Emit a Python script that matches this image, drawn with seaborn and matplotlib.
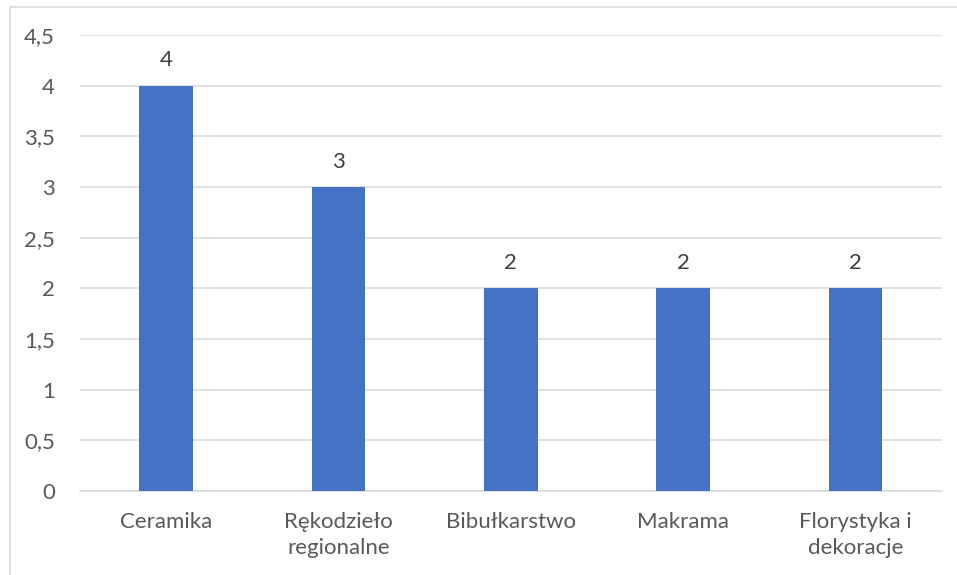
import seaborn as sb
import matplotlib.pyplot as plt
import matplotlib.patches as patches
import pandas as pd

categories = ["Ceramika", "Rękodzieło\nregionalne", "Bibułkarstwo", "Makrama", "Florystyka i\ndekoracje"]
counts = [4, 3, 2, 2, 2]
yticks = [0, 0.5, 1, 1.5, 2, 2.5, 3, 3.5, 4, 4.5]

myd = pd.DataFrame({"kategoria": categories, "liczba": counts})

sb.set_style("white")
plt.rcParams["font.family"] = ["Lato", "DejaVu Sans"]
txt = "#595959"
grid = "#d9d9d9"

fig = plt.figure(figsize=(9.57, 5.75), dpi=100)
ax = fig.add_axes([0.0836, 0.146, 0.9004, 0.793])
sb.barplot(x="kategoria", y="liczba", data=myd, color="#4472C4", width=0.31,
           saturation=1, linewidth=0, ax=ax, zorder=3)

ax.set_ylim(0, 4.5)
ax.set_yticks(yticks)
ax.set_yticklabels([str(t).replace(".0", "").replace(".", ",") for t in yticks])
ax.set_xlim(-0.5, 4.5)
ax.yaxis.grid(True, color=grid, linewidth=1.1, zorder=0)
for s in ["top", "right", "left"]:
    ax.spines[s].set_visible(False)
ax.spines["bottom"].set_color(grid)
ax.spines["bottom"].set_linewidth(1.1)
ax.tick_params(axis="both", length=0, labelsize=16, labelcolor=txt)
ax.tick_params(axis="y", pad=18)
ax.tick_params(axis="x", pad=15)
for lab in ax.get_xticklabels():
    lab.set_linespacing(1.4)
ax.set_xlabel("")
ax.set_ylabel("")

for i, v in enumerate(counts):
    ax.annotate(str(v), (i, v), xytext=(0, 11), textcoords="offset points",
                ha="center", va="bottom", fontsize=16, color="#404040")

fig.patches.append(patches.Rectangle((9.5 / 957, -0.05), 1.2, 1 - 6.5 / 575 + 0.05,
                                     transform=fig.transFigure, fill=False,
                                     edgecolor=grid, linewidth=1.2))

plt.savefig("out.png", dpi=100)
